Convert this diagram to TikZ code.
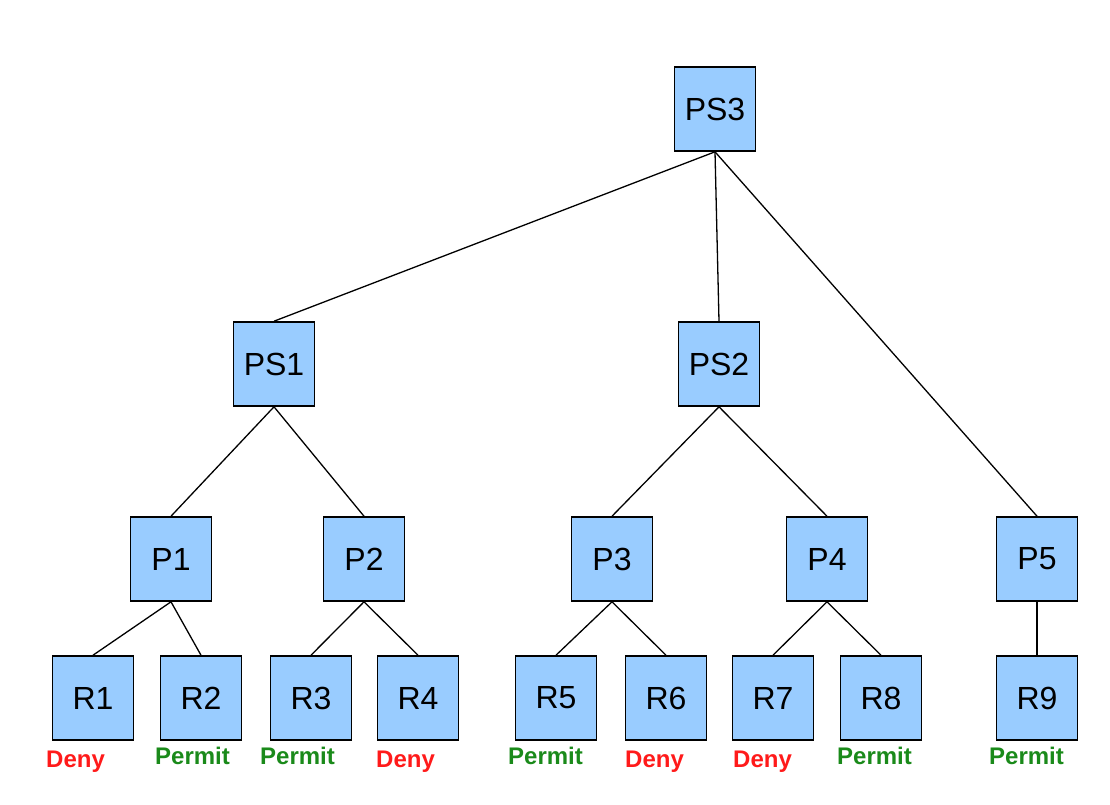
\documentclass[tikz,border=0pt]{standalone}
\usepackage{fontspec}
\setmainfont{Liberation Sans}
\definecolor{boxblue}{HTML}{99CCFF}
\definecolor{denyred}{HTML}{FF1A1A}
\definecolor{permitgreen}{HTML}{1A8A1A}
\begin{document}
\begin{tikzpicture}[x=1pt,y=-1pt,
    box/.style={draw,fill=boxblue,line width=1.6pt,minimum width=81pt,minimum height=84pt,inner sep=0pt,font=\fontsize{32}{36}\selectfont},
    deny/.style={text=denyred,anchor=base west,inner sep=0pt,font=\fontsize{24}{28}\selectfont\bfseries},
    permit/.style={text=permitgreen,anchor=base west,inner sep=0pt,font=\fontsize{24}{28}\selectfont\bfseries}]
        \useasboundingbox (0,0) rectangle (1110,804);
        % policy sets
        \node[box] (ps3) at (715,109) {PS3};
        \node[box] (ps1) at (274,364) {PS1};
        \node[box] (ps2) at (719,364) {PS2};
        % policies
        \node[box] (p1) at (171,559) {P1};
        \node[box] (p2) at (364,559) {P2};
        \node[box] (p3) at (612,559) {P3};
        \node[box] (p4) at (827,559) {P4};
        \node[box] (p5) at (1037,559) {P5};
        % rules
        \foreach \n/\x in {1/93,2/201,3/311,4/418,5/556,6/666,7/773,8/881,9/1037}
            \node[box] (r\n) at (\x,698) {R\n};
        \foreach \a/\b in {ps3/ps1,ps3/ps2,ps3/p5,ps1/p1,ps1/p2,ps2/p3,ps2/p4,p1/r1,p1/r2,p2/r3,p2/r4,p3/r5,p3/r6,p4/r7,p4/r8,p5/r9}
            \draw[line width=1.3pt] (\a.south) -- (\b.north);
        % effects
        \foreach \n/\x/\y/\s/\t in {1/46/767/deny/Deny,2/155/764/permit/Permit,3/260/764/permit/Permit,4/376/767/deny/Deny,5/508/764/permit/Permit,6/625/767/deny/Deny,7/733/767/deny/Deny,8/837/764/permit/Permit,9/989/764/permit/Permit}
            \node[\s] (e\n) at (\x,\y) {\t};
    \end{tikzpicture}
\end{document}
